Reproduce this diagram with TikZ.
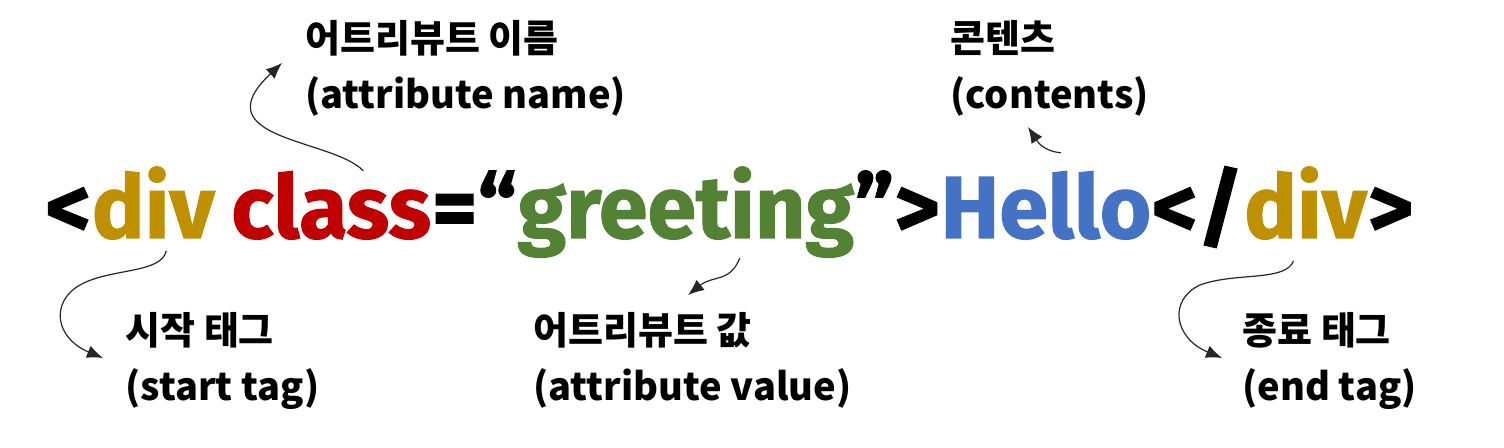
\documentclass[tikz,border=0pt]{standalone}
\usepackage{fontspec}
\usepackage{xcolor}
\usetikzlibrary{positioning,arrows.meta}
\newfontfamily\krfont{Noto Sans CJK KR}
\newfontfamily\codefont[FakeBold=1.2]{Fira Sans}
\definecolor{tagcol}{HTML}{BF9000}
\definecolor{namecol}{HTML}{C00000}
\definecolor{valcol}{HTML}{548235}
\definecolor{textcol}{HTML}{4472C4}

\begin{document}
\begin{tikzpicture}[x=0.5pt, y=-0.5pt,
  code/.style={inner sep=0pt, font=\codefont\bfseries\fontsize{44}{44}\selectfont},
  lbl/.style={inner sep=0pt, anchor=north west, align=left,
    font=\krfont\bfseries\fontsize{19}{28}\selectfont},
  pointer/.style={-{Latex[length=8pt,width=6.5pt]}, line width=0.6pt, draw=black!85}
]
\useasboundingbox (0,0) rectangle (1504,448);

% the code line
\node[code, anchor=base west] (lt) at (45,238) {<};
\node[code, text=tagcol, base right=0pt of lt] (divopen) {div};
\node[code, text=namecol, base right=8pt of divopen] (attrname) {class};
\node[code, base right=0pt of attrname] (eqq) {=“};
\node[code, text=valcol, base right=0pt of eqq] (attrval) {greeting};
\node[code, base right=0pt of attrval] (closeq) {”>};
\node[code, text=textcol, base right=0pt of closeq] (content) {Hello};
\node[code, base right=0pt of content] (ltslash) {</};
\node[code, text=tagcol, base right=0pt of ltslash] (divclose) {div};
\node[code, base right=0pt of divclose] (gtend) {>};

% labels
\node[lbl] (namelbl) at (305,20) {어트리뷰트 이름\\(attribute name)};
\node[lbl] (contlbl) at (950,20) {콘텐츠\\(contents)};
\node[lbl] (startlbl) at (125,312) {시작 태그\\(start tag)};
\node[lbl] (vallbl) at (533,312) {어트리뷰트 값\\(attribute value)};
\node[lbl] (endlbl) at (1242,312) {종료 태그\\(end tag)};

% arrow ends
\coordinate (nametip) at (282,63);
\coordinate (conttip) at (1028,127);
\coordinate (starttip) at (103,358);
\coordinate (valtip) at (688,295);
\coordinate (endtip) at (1222,358);

% pointers
\draw[pointer] ([xshift=16pt]attrname.north) .. controls +(-30,-32) and +(-82,77) .. (nametip);
\draw[pointer] ([xshift=6.5pt,yshift=-5.5pt]divopen.south) .. controls +(-5,23) and +(30,-17) .. (80,285)
  .. controls +(-30,17) and +(-48,-20) .. (starttip);
\draw[pointer] ([xshift=27pt]attrval.south) .. controls +(-10,25) and +(25,-20) .. (valtip);
\draw[pointer] ([xshift=7.5pt,yshift=9pt]content.north) .. controls +(-20,-2) and +(8,12) .. (conttip);
\draw[pointer] ([xshift=-6pt,yshift=-10.5pt]divclose.south) .. controls +(-8,21) and +(35,-13) .. (1200,285)
  .. controls +(-32,15) and +(-48,-20) .. (endtip);
\end{tikzpicture}
\end{document}
